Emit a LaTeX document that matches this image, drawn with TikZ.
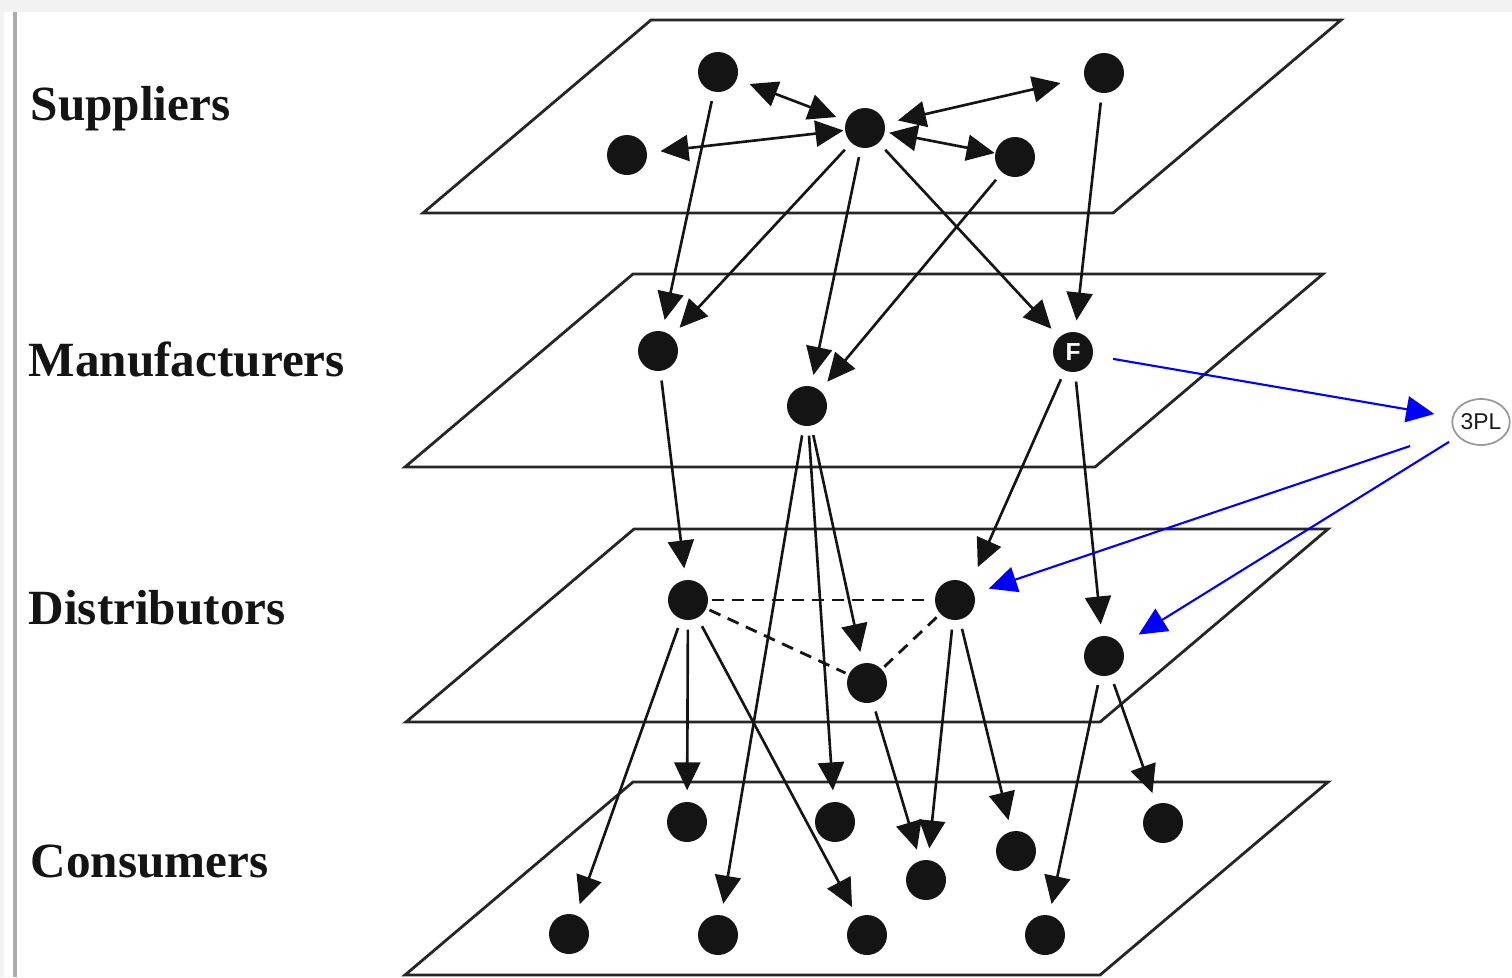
\documentclass[tikz,border=0pt]{standalone}
\usepackage{fontspec}
\setmainfont{Liberation Serif}
\setsansfont{Liberation Sans}
\usetikzlibrary{arrows.meta,shapes.geometric}
\tikzset{
  scplane/.style={draw=scedge,line width=0.8pt},
  scdot/.style={circle,fill=scink,minimum size=4mm,inner sep=0pt},
  scfirm/.style={scdot,text=white,font=\sffamily\bfseries\fontsize{7}{7}\selectfont},
  sctpl/.style={ellipse,draw=gray!80,line width=0.5pt,minimum width=5.4mm,minimum height=4.6mm,inner sep=0pt,text=gray!20!black,font=\sffamily\fontsize{6.5}{7}\selectfont},
  sclab/.style={inner sep=0pt,text=scink,font=\bfseries\fontsize{14}{16}\selectfont},
  scarr/.style={-{Triangle[length=2.8mm,width=2.6mm]},line width=0.75pt,scink,shorten <=0.9mm,shorten >=1.1mm},
  scbi/.style={{Triangle[length=2.8mm,width=2.6mm]}-{Triangle[length=2.8mm,width=2.6mm]},line width=0.75pt,scink,shorten <=1.3mm,shorten >=1mm},
  scblue/.style={-{Triangle[length=2.8mm,width=2.6mm]},line width=0.6pt,scblu},
  scdash/.style={line width=0.8pt,scink,dash pattern=on 1.2mm off 0.8mm,shorten <=0.3mm,shorten >=0.3mm},
}
\colorlet{scink}{black!92}
\colorlet{scedge}{black!85}
\colorlet{scblu}{blue}

\begin{document}
\begin{tikzpicture}[x=0.1mm,y=-0.1mm]
\useasboundingbox (0,0) rectangle (1512,977);
% ---- frame: grey strip on top, rule down the left
\fill[gray!10] (0,0) rectangle (1512,12);
\fill[gray!10] (0,12) rectangle (4,977);
\draw[gray!65,line width=1pt] (15,12) -- (15,977);
% ---- the four layers (bottom-left x / bottom y / width)
\foreach \PX/\PY/\PW in {423/213/690,405/467/690,406/722/694,405/975/695}
  \draw[scplane] (\PX,\PY) -- ++(\PW,0) -- ++(228,-193) -- ++(-\PW,0) -- cycle;
% ---- layer names
\node[sclab,anchor=base west] (lsup) at (30,120) {Suppliers};
\node[sclab,anchor=base west] (lman) at (28,376) {Manufacturers};
\node[sclab,anchor=base west] (ldis) at (28,624) {Distributors};
\node[sclab,anchor=base west] (lcon) at (30,877) {Consumers};
% ---- suppliers
\node[scdot] (s1) at (718,72) {};
\node[scdot] (s2) at (1104,73) {};
\node[scdot] (s3) at (865,128) {};
\node[scdot] (s4) at (627,155) {};
\node[scdot] (s5) at (1015,157) {};
% ---- manufacturers, F = focal firm
\node[scdot] (m1) at (658,351) {};
\node[scdot] (m2) at (807,406) {};
\node[scfirm] (m3) at (1073,352) {F};
% ---- third-party logistics, off the stack
\node[sctpl] (tpl) at (1481,422) {3PL};
% ---- distributors
\node[scdot] (d1) at (688,600) {};
\node[scdot] (d2) at (955,600) {};
\node[scdot] (d3) at (867,683) {};
\node[scdot] (d4) at (1104,656) {};
% ---- consumers
\node[scdot] (c1) at (687,822) {};
\node[scdot] (c2) at (835,822) {};
\node[scdot] (c3) at (926,880) {};
\node[scdot] (c4) at (1016,851) {};
\node[scdot] (c5) at (1163,823) {};
\node[scdot] (c6) at (569,934) {};
\node[scdot] (c7) at (718,935) {};
\node[scdot] (c8) at (867,935) {};
\node[scdot] (c9) at (1045,935) {};
% ---- two-way links inside the supplier layer
\draw[scbi] (s1) -- (s3);
\draw[scbi,shorten >=2.4mm] (s3) -- (s2);
\draw[scbi,shorten >=0.1mm] (s4) -- (s3);
\draw[scbi,shorten <=0.4mm,shorten >=0mm] (s3) -- (s5);
% ---- flows down the chain
\foreach \a/\b in {s1/m1,s3/m1,s3/m2,s3/m3,s5/m2,s2/m3}
  \draw[scarr] (\a) -- (\b);
\foreach \a/\b in {m1/d1,m2/d3,m2/c2,m2/c7,m3/d4}
  \draw[scarr] (\a) -- (\b);
\draw[scarr,shorten >=2mm] (m3) -- (d2.north east);
\foreach \a/\b in {d1/c6,d1/c1,d1/c8,d2/c3,d2/c4,d3/c3,d4/c9,d4/c5}
  \draw[scarr] (\a) -- (\b);
% ---- ties between distributors
\draw[scdash] (d1) -- (d2);
\draw[scdash] (d1) -- (d3);
\draw[scdash] (d3) -- (d2);
% ---- 3PL in and out
\draw[scblue,shorten <=2mm,shorten >=1.8mm] (m3) -- (tpl);
\draw[scblue,shorten <=4.6mm,shorten >=1.5mm] (tpl) -- (d2);
\draw[scblue,shorten <=1mm,shorten >=2mm] (tpl) -- (d4);
\end{tikzpicture}
\end{document}
